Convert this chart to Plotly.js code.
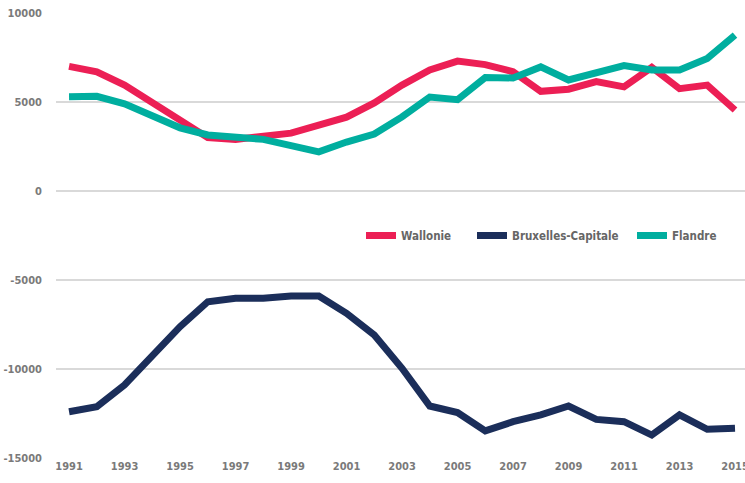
<!DOCTYPE html>
<html>
<head>
<meta charset="utf-8">
<script src="https://cdn.plot.ly/plotly-3.0.1.min.js"></script>
<style>
html,body{margin:0;padding:0;background:#fff}
#chart{width:745px;height:483px}
#chart text{font-stretch:condensed !important;}
</style>
</head>
<body>
<div id="chart"></div>
<script>
const years = [1991,1992,1993,1994,1995,1996,1997,1998,1999,2000,2001,2002,2003,2004,2005,2006,2007,2008,2009,2010,2011,2012,2013,2014,2015];
const wallonie = [7000,6700,5950,4950,4050,3000,2900,3050,3250,3700,4150,4950,5950,6800,7300,7100,6700,5600,5720,6150,5850,6950,5750,5950,4550];
const bruxelles = [-12400,-12120,-10900,-9200,-7620,-6220,-6030,-6030,-5900,-5900,-6870,-8090,-9960,-12080,-12450,-13480,-12960,-12580,-12080,-12830,-12960,-13710,-12580,-13390,-13330];
const flandre = [5300,5320,4900,4250,3550,3150,3030,2900,2550,2200,2750,3200,4160,5280,5130,6380,6350,6970,6240,6600,7050,6800,6800,7450,8760];
const seriesNames = ['Wallonie','Bruxelles-Capitale','Flandre'];
const yTicks = [10000,5000,0,-5000,-10000,-15000];
const xTicks = [1991,1993,1995,1997,1999,2001,2003,2005,2007,2009,2011,2013,2015];

const fam = '"DejaVu Sans",sans-serif';
const colors = ['#EC1F55','#1B2E5A','#00AE9F'];
const ys = [wallonie, bruxelles, flandre];
const legendIds = ['legend','legend2','legend3'];
const traces = ys.map((y,i)=>({
  x: years, y: y, name: seriesNames[i], type:'scatter', mode:'lines',
  line:{color:colors[i], width:7}, hoverinfo:'skip', legend: legendIds[i]
}));
const tickFont = {family:fam, size:11, color:'#7a7a7a', weight:'bold'};
const legFont = {family:fam, size:11.5, color:'#666', weight:'bold'};
function leg(xpx){ return {orientation:'h', x:(xpx-56)/689, xanchor:'left', y:0.5, yanchor:'middle', font:legFont, bgcolor:'rgba(0,0,0,0)'}; }
const layout = {
  width:745, height:483,
  margin:{l:56, r:0, t:13, b:25},
  paper_bgcolor:'#fff', plot_bgcolor:'#fff',
  showlegend:true,
  legend:leg(361), legend2:leg(472), legend3:leg(632),
  xaxis:{range:[1990.53,2015.36], tickvals:xTicks, ticktext:xTicks.map(String), showgrid:false, zeroline:false,
    showline:false, ticks:'', tickfont:tickFont, ticklabeloverflow:'allow', fixedrange:true},
  yaxis:{range:[-15000,10000], tickvals:yTicks, ticktext:yTicks.map(String), showgrid:true, gridcolor:'#d9d9d9', gridwidth:1.5,
    zeroline:false, showline:false, ticks:'', tickfont:tickFont, ticklabelstandoff:13, fixedrange:true}
};
Plotly.newPlot('chart', traces, layout, {staticPlot:true, displayModeBar:false});
</script>
</body>
</html>
